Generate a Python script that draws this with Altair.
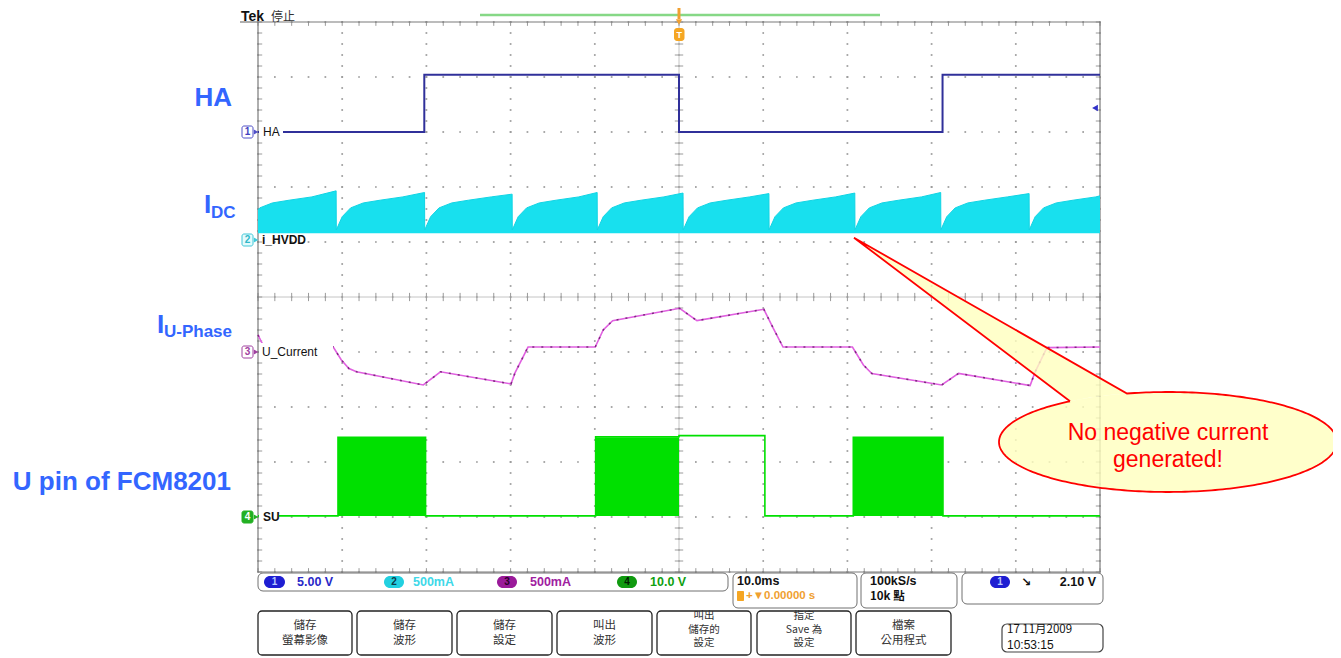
import altair as alt
import numpy as np
import pandas as pd

# ---------------- waveform data (time in ms, level in screen divisions) ----------------
HA_T = [-50.0, -30.25, -30.25, 0.0, 0.0, 31.3, 31.3, 50.0]
HA_V = [3.0, 3.0, 4.04, 4.04, 3.0, 3.0, 4.04, 4.04]

IDC_DROPS = [-51.5, -40.7, -30.2, -19.8, -9.7, 0.5, 10.7, 20.9, 31.1, 41.6]
IDC_PEAKS = [1.93, 1.90, 1.87, 1.90, 1.89, 1.88, 1.89, 1.90, 1.88, 1.84]
IDC_SHAPE_T = [0.0, 0.7, 1.7, 3.2, 5.2, 7.9]
IDC_SHAPE_V = [1.22, 1.46, 1.62, 1.71, 1.76, 1.82]
IDC_BASE = 1.16

IU_T = [-50.0, -49.3, -41.06, -40.1, -39.2, -38.3, -30.37, -28.33, -19.95, -19.48, -17.93,
        -9.95, -9.0, -7.88, 0.08, 2.13, 10.08, 11.2, 12.35, 20.6, 21.9, 22.9, 31.2, 33.2,
        41.7, 42.3, 43.7, 50.0]
IU_V = [-0.69, -0.91, -0.91, -1.145, -1.30, -1.36, -1.60, -1.36, -1.58, -1.38, -0.91,
        -0.91, -0.60, -0.43, -0.206, -0.43, -0.224, -0.57, -0.91, -0.91, -1.236, -1.39, -1.60, -1.39,
        -1.61, -1.36, -0.92, -0.91]

SU_T = [-50.0, -40.5, -40.5, -30.1, -30.1, -9.9, -9.9, 0.0, 0.0, 10.2, 10.2, 20.7, 20.7, 31.35, 31.35, 50.0]
SU_V = [-3.98, -3.98, -2.55, -2.55, -3.98, -3.98, -2.54, -2.54, -2.52, -2.52, -3.98, -3.98, -2.55, -2.55, -3.98, -3.98]
SU_PWM_START = [-40.5, -9.9, 20.7]
SU_PWM_END = [-30.1, 0.0, 31.35]
SU_PWM_TOP = -2.55

HA_COLOR = "#30309a"
IDC_COLOR = "#18e0ee"
IU_COLOR = "#e060e0"
SU_COLOR = "#00e000"
LABEL_BLUE = "#3366ff"
SANS = "Liberation Sans, Arial, sans-serif"
CJK = "Noto Sans CJK TC, Liberation Sans, sans-serif"

# ---------------- scales / helpers ----------------
X0, XS, Y0, YS = 679.0, 8.42, 297.0, 55.0
def tx(px): return (px - X0) / XS
def vy(py): return (Y0 - py) / YS

xs = alt.Scale(domain=[-50, 50], nice=False, zero=False)
ys = alt.Scale(domain=[-5, 5], nice=False, zero=False)

def X(f='t'): return alt.X(f'{f}:Q', scale=xs, axis=None)
def Y(f='v'): return alt.Y(f'{f}:Q', scale=ys, axis=None)

def rects(rows, **kw):
    df = pd.DataFrame([dict(t=tx(a), v=vy(b), t2=tx(c), v2=vy(d)) for a, b, c, d in rows])
    return alt.Chart(df).mark_rect(**kw).encode(x=X(), y=Y(), x2='t2:Q', y2='v2:Q')

def texts(rows, **kw):
    df = pd.DataFrame([dict(t=tx(a), v=vy(b), s=c) for a, b, c in rows])
    return alt.Chart(df).mark_text(**kw).encode(x=X(), y=Y(), text='s:N')

def segs(rows, **kw):
    df = pd.DataFrame([dict(t=a, v=b, t2=c, v2=d) for a, b, c, d in rows])
    return alt.Chart(df).mark_rule(**kw).encode(x=X(), y=Y(), x2='t2:Q', y2='v2:Q')

layers = []

# ---------------- graticule ----------------
dots = []
for gx in range(-50, 51, 10):
    for k in range(51):
        dots.append((gx, -5 + 0.2 * k))
for gy in range(-5, 6):
    for k in range(51):
        dots.append((-50 + 2 * k, gy))
ddf = pd.DataFrame(dots, columns=['t', 'v'])
layers.append(alt.Chart(ddf).mark_square(size=3, color="#9c9c9c", opacity=1).encode(x=X(), y=Y()))

ticks = []
for k in range(51):
    t = -50 + 2 * k
    ticks += [(t, -0.075, t, 0.075), (t, 5, t, 4.93), (t, -5, t, -4.93)]
for k in range(51):
    v = -5 + 0.2 * k
    ticks += [(-0.5, v, 0.5, v), (-50, v, -49.5, v), (50, v, 49.5, v)]
layers.append(segs([(-50, 0, 50, 0), (0, -5, 0, 5)], color="#c4c4c4", strokeWidth=1))
layers.append(segs(ticks, color="#9a9a9a", strokeWidth=1))
layers.append(segs([(-50, -5, 50, -5), (-50, 5, 50, 5), (-50, -5, -50, 5), (50, -5, 50, 5),
                    (tx(240), 5, -50, 5)], color="#7a7a7a", strokeWidth=1.2))

# ---------------- waveforms ----------------
# I_DC (filled band)
it, iv = [], []
for k, d in enumerate(IDC_DROPS):
    end = IDC_DROPS[k + 1] - 0.02 if k + 1 < len(IDC_DROPS) else 50.0
    for rt, rv in zip(IDC_SHAPE_T, IDC_SHAPE_V):
        if d + rt < end:
            it.append(d + rt); iv.append(rv)
    it.append(end); iv.append(IDC_PEAKS[k])
it = np.array(it); iv = np.array(iv)
start_v = float(np.interp(-50.0, it, iv))
keep = it > -50.0
idf = pd.DataFrame({'t': np.concatenate([[-50.0], it[keep]]),
                    'v': np.concatenate([[start_v], iv[keep]])})
idf['b'] = IDC_BASE
layers.append(alt.Chart(idf).mark_area(color=IDC_COLOR, opacity=1).encode(x=X(), y=Y(), y2='b:Q'))
layers.append(alt.Chart(idf).mark_line(color="#10d4e4", strokeWidth=1).encode(x=X(), y=Y()))

# HA
hdf = pd.DataFrame({'t': HA_T, 'v': HA_V, 'i': range(len(HA_T))})
layers.append(alt.Chart(hdf).mark_line(color=HA_COLOR, strokeWidth=2).encode(x=X(), y=Y(), order='i:Q'))

# U phase current
udf = pd.DataFrame({'t': IU_T, 'v': IU_V, 'i': range(len(IU_T))})
layers.append(alt.Chart(udf).mark_line(color=IU_COLOR, strokeWidth=1.6).encode(x=X(), y=Y(), order='i:Q'))
layers.append(alt.Chart(udf).mark_line(color="#6a1a6a", strokeWidth=1.6, strokeDash=[2, 7], opacity=0.8).encode(
    x=X(), y=Y(), order='i:Q'))

# SU PWM blocks
blk = []
for j, (a, b) in enumerate(zip(SU_PWM_START, SU_PWM_END)):
    blk += [dict(t=a, v=SU_PWM_TOP, b=SU_V[0], g=j), dict(t=b, v=SU_PWM_TOP, b=SU_V[0], g=j)]
layers.append(alt.Chart(pd.DataFrame(blk)).mark_area(color=SU_COLOR, opacity=1).encode(
    x=X(), y=Y(), y2='b:Q', detail='g:N'))
sdf = pd.DataFrame({'t': SU_T, 'v': SU_V, 'i': range(len(SU_T))})
layers.append(alt.Chart(sdf).mark_line(color=SU_COLOR, strokeWidth=1.6).encode(x=X(), y=Y(), order='i:Q'))

# ---------------- trace labels / channel markers ----------------
layers.append(rects([(259, 126, 283, 138), (259, 343, 333, 359), (259, 510, 279, 523)],
                    color="white"))
layers.append(texts([(263, 136, "HA"), (262, 356, "U_Current")], align="left", baseline="alphabetic",
                    font=SANS, fontSize=12, color="#111"))
layers.append(texts([(262, 244, "i_HVDD"), (263, 521, "SU")], align="left", baseline="alphabetic",
                    font=SANS, fontSize=12, fontWeight="bold", color="#111"))
for py, fill, stroke, tc, lab in [(132, "white", "#5050c8", "#4040c0", "1"),
                                  (240, "#e4fbfd", "#40c8d8", "#30b8c8", "2"),
                                  (352, "white", "#a040a0", "#a040a0", "3"),
                                  (517, "#22b022", "#22b022", "white", "4")]:
    layers.append(rects([(242, py - 6, 253, py + 6)], fill=fill, stroke=stroke, strokeWidth=1, cornerRadius=2))
    layers.append(texts([(247.5, py, lab)], align="center", baseline="middle", font=SANS, fontSize=10,
                        fontWeight="bold", color=tc))
    tri = pd.DataFrame({'t': [tx(256)], 'v': [vy(py)]})
    layers.append(alt.Chart(tri).mark_point(shape="triangle-right", filled=True, size=25, color=stroke,
                                            opacity=1).encode(x=X(), y=Y()))

# trigger level marker (right side)
tl = pd.DataFrame({'t': [tx(1095)], 'v': [vy(108)]})
layers.append(alt.Chart(tl).mark_point(shape="triangle-left", filled=True, size=45, color="#3030c8",
                                       opacity=1).encode(x=X(), y=Y()))

# ---------------- top decorations ----------------
layers.append(segs([(tx(480), vy(15), tx(880), vy(15))], color="#86d886", strokeWidth=2.5))
layers.append(segs([(0, vy(8), 0, vy(19))], color="#f0a030", strokeWidth=3))
trg = pd.DataFrame({'t': [0.0], 'v': [vy(22)]})
layers.append(alt.Chart(trg).mark_point(shape="triangle-down", filled=True, size=40, color="#f0a030",
                                        opacity=1).encode(x=X(), y=Y()))
layers.append(rects([(674, 28, 684.5, 41)], color="#f5a623", cornerRadius=3))
layers.append(texts([(679.3, 35, "T")], align="center", baseline="middle", font=SANS, fontSize=9,
                    fontWeight="bold", color="white"))
layers.append(texts([(241, 21, "Tek")], align="left", baseline="alphabetic", font=SANS, fontSize=14,
                    fontWeight="bold", color="#111"))
layers.append(texts([(271, 21, "停止")], align="left", baseline="alphabetic", font=CJK, fontSize=12,
                    color="#333"))

# ---------------- left blue annotations ----------------
layers.append(texts([(232, 106, "HA"), (231, 490, "U pin of FCM8201")], align="right", baseline="alphabetic",
                    font=SANS, fontSize=26, fontWeight="bold", color=LABEL_BLUE))
layers.append(texts([(204, 213, "I"), (157, 333, "I")], align="left", baseline="alphabetic",
                    font=SANS, fontSize=26, fontWeight="bold", color=LABEL_BLUE))
layers.append(texts([(211, 218, "DC"), (164, 337, "U-Phase")], align="left", baseline="alphabetic",
                    font=SANS, fontSize=17, fontWeight="bold", color=LABEL_BLUE))

# ---------------- callout ----------------
cx, cy, rx, ry = 1168.0, 442.0, 169.0, 50.0
tip = (854.0, 237.7)
def etop(x): return cy - ry * np.sqrt(max(0.0, 1 - ((x - cx) / rx) ** 2))
A = (1070.0, etop(1070.0))
B = (1127.0, etop(1127.0))
phiA = np.arctan2((A[1] - cy) / ry, (A[0] - cx) / rx)
phiB = np.arctan2((B[1] - cy) / ry, (B[0] - cx) / rx)
phis = np.linspace(phiB, phiA + 2 * np.pi, 260)
outline = [A, tip, B] + [(cx + rx * np.cos(p), cy + ry * np.sin(p)) for p in phis]
odf = pd.DataFrame({'t': [tx(p[0]) for p in outline], 'v': [vy(p[1]) for p in outline],
                    'i': range(len(outline))})

xsmp = np.sort(np.concatenate([np.linspace(tip[0], B[0], 90), [A[0]]]))
tail_top = tip[1] + (B[1] - tip[1]) * (xsmp - tip[0]) / (B[0] - tip[0])
tail_bot = np.array([tip[1] + (A[1] - tip[1]) * (x - tip[0]) / (A[0] - tip[0]) if x <= A[0] else etop(x)
                     for x in xsmp])
tdf = pd.DataFrame({'t': tx(xsmp), 'v': vy(tail_top), 'b': vy(tail_bot)})
th = np.linspace(np.pi, 0, 240)
edf = pd.DataFrame({'t': tx(cx + rx * np.cos(th)), 'v': vy(cy - ry * np.sin(th)), 'b': vy(cy + ry * np.sin(th))})
CALL_FILL = "#ffffbe"
layers.append(alt.Chart(tdf).mark_area(color=CALL_FILL, opacity=0.8).encode(x=X(), y=Y(), y2='b:Q'))
layers.append(alt.Chart(edf).mark_area(color=CALL_FILL, opacity=0.8).encode(x=X(), y=Y(), y2='b:Q'))
layers.append(alt.Chart(odf).mark_line(color="#ff0000", strokeWidth=1.8).encode(x=X(), y=Y(), order='i:Q'))
layers.append(texts([(1168, 440, "No negative current"), (1168, 467, "generated!")], align="center",
                    baseline="alphabetic", font=SANS, fontSize=23, color="#ff0000"))

# ---------------- status bar ----------------
layers.append(rects([(258, 573, 728, 591), (733, 573, 857, 608), (861, 573, 957, 608), (962, 573, 1103, 604)],
                    fill="white", stroke="#707070", strokeWidth=1, cornerRadius=5))
for (a, b, fill, tc, lab) in [(264, 285, "#1e1ed2", "#b8c8ff", "1"), (384, 404, "#22d0e0", "#0c3c48", "2"),
                              (497, 517, "#9a1a9a", "#2a002a", "3"), (617, 637, "#109a10", "#002000", "4"),
                              (990, 1010, "#1e1ed2", "#b8c8ff", "1")]:
    layers.append(rects([(a, 576, b, 588)], color=fill, cornerRadius=6))
    layers.append(texts([((a + b) / 2, 582, lab)], align="center", baseline="middle", font=SANS, fontSize=10,
                        fontWeight="bold", color=tc))
for (px, s, c) in [(297, "5.00 V", "#2828c8"), (413, "500mA", "#40d8e8"), (530, "500mA", "#a020a0"),
                   (650, "10.0 V", "#10a010")]:
    layers.append(texts([(px, 582, s)], align="left", baseline="middle", font=SANS, fontSize=12.5,
                        fontWeight="bold", color=c))
layers.append(texts([(737, 581, "10.0ms"), (870, 581, "100kS/s")], align="left",
                    baseline="middle", font=SANS, fontSize=12.5, fontWeight="bold", color="#111"))
layers.append(texts([(870, 597, "10k 點")], align="left",
                    baseline="middle", font=CJK, fontSize=11.5, fontWeight="bold", color="#111"))
layers.append(rects([(737, 591, 744, 601)], color="#f5a623", cornerRadius=1))
layers.append(texts([(746, 596, "+▼0.00000 s")], align="left", baseline="middle", font=SANS, fontSize=11.5,
                    fontWeight="bold", color="#f0a030"))
layers.append(texts([(1026, 582, "↘")], align="center", baseline="middle", font="DejaVu Sans", fontSize=12,
                    fontWeight="bold", color="#111"))
layers.append(texts([(1096, 582, "2.10 V")], align="right", baseline="middle", font=SANS, fontSize=12.5,
                    fontWeight="bold", color="#111"))

# ---------------- soft-key buttons ----------------
btn_x = [(258, 352), (357, 452), (457, 552), (557, 652), (657, 751), (757, 851), (856, 951)]
layers.append(rects([(a, 611, b, 655) for a, b in btn_x], fill="white", stroke="#222", strokeWidth=1.3,
                    cornerRadius=4))
btn_lines = [["儲存", "螢幕影像"], ["儲存", "波形"], ["儲存", "設定"], ["叫出", "波形"],
             ["叫出", "儲存的", "設定"], ["指定", "Save 為", "設定"], ["檔案", "公用程式"]]
rows2, rows3 = [], []
for (a, b), lines in zip(btn_x, btn_lines):
    if len(lines) == 2:
        for yy, s in zip([626, 641], lines):
            rows2.append(((a + b) / 2, yy, s))
    else:
        for yy, s in zip([616, 629.5, 643], lines):
            rows3.append(((a + b) / 2, yy, s))
layers.append(texts(rows2, align="center", baseline="middle", font=CJK, fontSize=11.5, color="#333"))
layers.append(texts(rows3, align="center", baseline="middle", font=CJK, fontSize=10.5, color="#333"))

layers.append(rects([(1002, 624, 1103, 652)], fill="white", stroke="#444", strokeWidth=1.2, cornerRadius=5))
layers.append(texts([(1007, 630, "17 11月2009")], align="left", baseline="middle",
                    font=CJK, fontSize=11.5, color="#111"))
layers.append(texts([(1007, 645, "10:53:15")], align="left", baseline="middle",
                    font=SANS, fontSize=12, color="#111"))

chart = alt.layer(*layers).properties(
    width=842, height=550,
    padding={"left": 250, "top": 14, "right": 233, "bottom": 90},
    autosize=alt.AutoSizeParams(type="none"),
    background="white",
).configure_view(stroke=None)

chart.save("out.html", embed_options={"renderer": "svg", "actions": False})
